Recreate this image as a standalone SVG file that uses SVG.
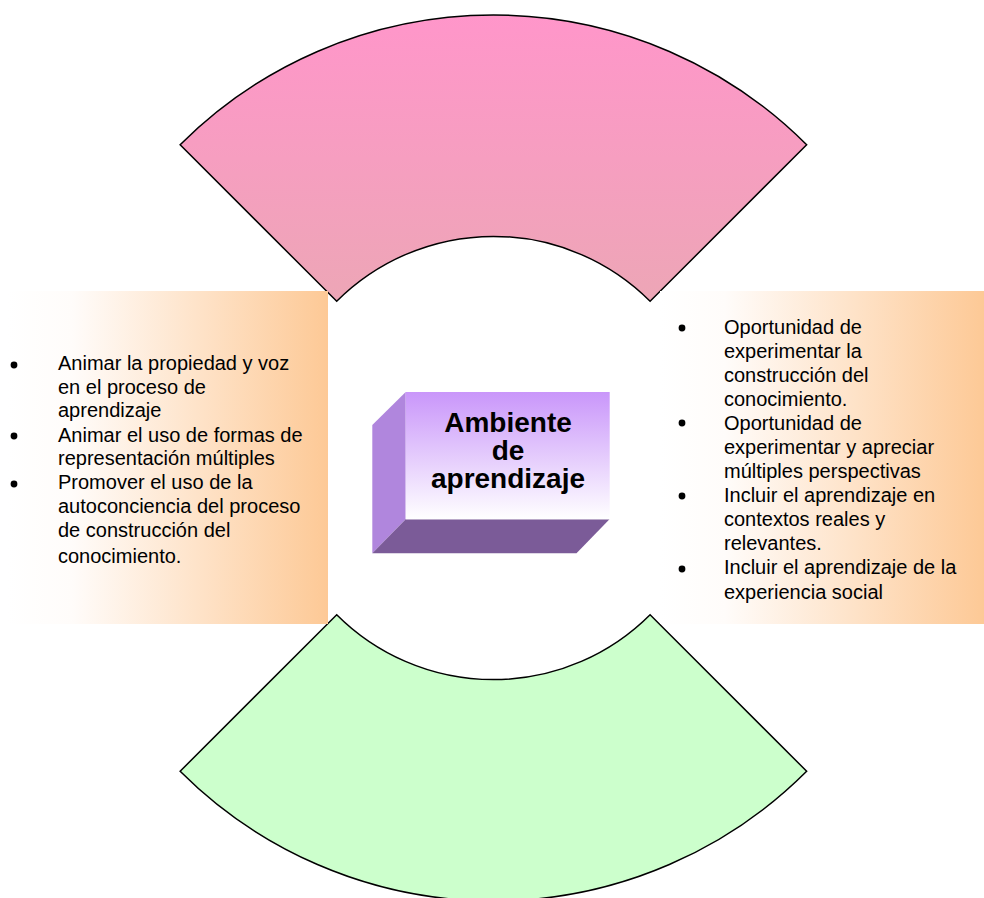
<svg xmlns="http://www.w3.org/2000/svg" width="984" height="898" viewBox="0 0 984 898">
  <defs>
    <linearGradient id="pinkFill" x1="0" y1="15" x2="0" y2="301" gradientUnits="userSpaceOnUse">
      <stop offset="0" stop-color="#FF96CA"/>
      <stop offset="1" stop-color="#EDA6B6"/>
    </linearGradient>
    <linearGradient id="peach" x1="0" y1="0" x2="1" y2="0">
      <stop offset="0" stop-color="#FFFFFF"/>
      <stop offset="0.2" stop-color="#FFFCFA"/>
      <stop offset="1" stop-color="#FDC996"/>
    </linearGradient>
    <linearGradient id="front" x1="0" y1="0" x2="0" y2="1">
      <stop offset="0" stop-color="#C996FA"/>
      <stop offset="1" stop-color="#FFFFFF"/>
    </linearGradient>
    <style>
      .sector { stroke: #000; stroke-width: 1.5; stroke-linejoin: miter; }
      .body { font-family: "Liberation Sans", Arial, sans-serif; font-size: 20px; fill: #000; }
      .title { font-family: "Liberation Sans", Arial, sans-serif; font-size: 28px; font-weight: bold; fill: #000; text-anchor: middle; }
      .dot { fill: #000; }
    </style>
  </defs>
  <rect width="984" height="898" fill="#FFFFFF"/>

  <!-- top sector -->
  <g id="sector-top">
    <path class="sector" fill="url(#pinkFill)" d="M 180.15,144.75 A 443 443 0 0 1 806.65,144.75 L 650.1,301.3 A 221.6 221.6 0 0 0 336.7,301.3 Z"/>
  </g>

  <!-- bottom sector -->
  <g id="sector-bottom">
    <path class="sector" fill="#CCFFCC" d="M 336.7,614.7 A 221.6 221.6 0 0 0 650.1,614.7 L 806.65,771.25 A 443 443 0 0 1 180.15,771.25 Z"/>
  </g>

  <!-- left panel -->
  <g id="panel-left">
    <rect x="8" y="291" width="320" height="333" fill="url(#peach)"/>
    <circle class="dot" cx="14" cy="365" r="3.4"/>
    <circle class="dot" cx="14" cy="436" r="3.4"/>
    <circle class="dot" cx="14" cy="484" r="3.4"/>
    <text class="body" x="58" y="370">Animar la propiedad y voz</text>
    <text class="body" x="58" y="393.5">en el proceso de</text>
    <text class="body" x="58" y="417">aprendizaje</text>
    <text class="body" x="58" y="441.5">Animar el uso de formas de</text>
    <text class="body" x="58" y="465">representación múltiples</text>
    <text class="body" x="58" y="489">Promover el uso de la</text>
    <text class="body" x="58" y="513">autoconciencia del proceso</text>
    <text class="body" x="58" y="537">de construcción del</text>
    <text class="body" x="58" y="563">conocimiento.</text>
  </g>

  <!-- right panel -->
  <g id="panel-right">
    <rect x="660" y="291" width="324" height="333" fill="url(#peach)"/>
    <circle class="dot" cx="682" cy="328" r="3.4"/>
    <circle class="dot" cx="682" cy="423" r="3.4"/>
    <circle class="dot" cx="682" cy="496" r="3.4"/>
    <circle class="dot" cx="682" cy="569" r="3.4"/>
    <text class="body" x="724" y="334">Oportunidad de</text>
    <text class="body" x="724" y="357.5">experimentar la</text>
    <text class="body" x="724" y="381.5">construcción del</text>
    <text class="body" x="724" y="406">conocimiento.</text>
    <text class="body" x="724" y="429.5">Oportunidad de</text>
    <text class="body" x="724" y="454">experimentar y apreciar</text>
    <text class="body" x="724" y="477.5">múltiples perspectivas</text>
    <text class="body" x="724" y="501.5">Incluir el aprendizaje en</text>
    <text class="body" x="724" y="526">contextos reales y</text>
    <text class="body" x="724" y="550">relevantes.</text>
    <text class="body" x="724" y="574">Incluir el aprendizaje de la</text>
    <text class="body" x="724" y="598.5">experiencia social</text>
  </g>

  <!-- central block -->
  <g id="center-box">
    <polygon fill="#B086DD" points="405.7,392 372.3,425 372.3,553.3 405.7,519.3"/>
    <polygon fill="#7B5B98" points="405.7,519.3 609.5,519.3 576.5,553.3 372.3,553.3"/>
    <rect x="405.7" y="392" width="204" height="127.3" fill="url(#front)"/>
    <text class="title" x="508" y="431.5">Ambiente</text>
    <text class="title" x="508" y="460">de</text>
    <text class="title" x="508" y="488">aprendizaje</text>
  </g>

  <g id="connectors"/>
</svg>
